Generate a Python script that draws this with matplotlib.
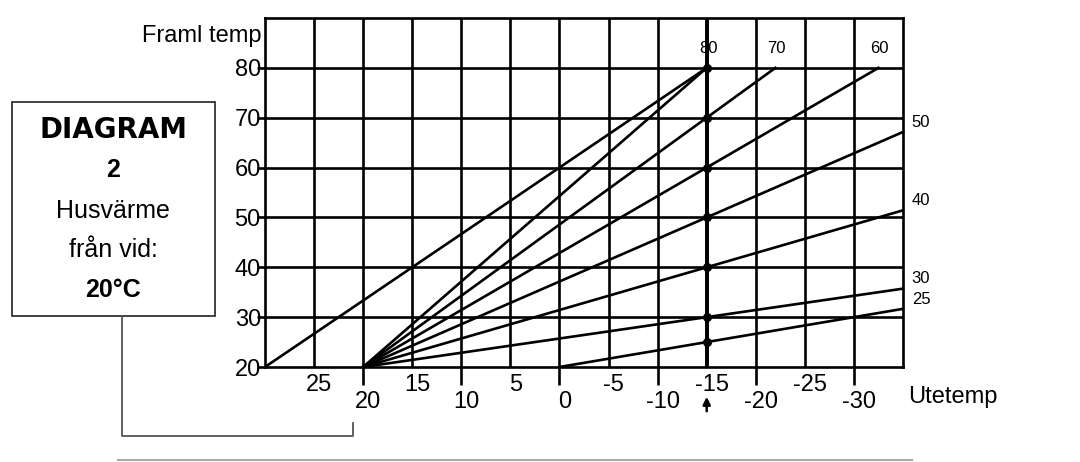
import matplotlib.pyplot as plt
from matplotlib.patches import Rectangle
from matplotlib.lines import Line2D
import matplotlib.transforms as mtransforms

plt.rcParams['font.family'] = ['Liberation Sans', 'DejaVu Sans']

# outdoor temperature ticks (two staggered rows) and supply temperature ticks
outdoor_lower = [20, 10, 0, -10, -20, -30]
outdoor_upper = [25, 15, 5, -5, -15, -25]
supply_ticks = [20, 30, 40, 50, 60, 70, 80]

# heating curves: supply temp at design outdoor temp -15, start point on 20-line
curve_names = [80, 70, 60, 50, 40, 30, 25]
curve_start = [20, 20, 20, 20, 20, 20, 0]
design_outdoor = -15
# extra straight line from the left corner up to (-15, 80)
corner_line_x = [30, -15]
corner_line_y = [20, 80]

W, H = 1080, 462
fig = plt.figure(figsize=(W / 100, H / 100), dpi=100)

def fx(px):
    return px / W

def fy(py):
    return 1 - py / H

ax = fig.add_axes([fx(265), fy(367), fx(903) - fx(265), fy(18) - fy(367)])
ax.set_xlim(30, -35)
ax.set_ylim(20, 90)

lw = 1.9
for x in range(25, -35, -5):
    ax.axvline(x, color='black', lw=lw * (1.5 if x == design_outdoor else 1), zorder=1)
for y in supply_ticks[1:]:
    ax.axhline(y, color='black', lw=lw, zorder=1)
for s in ax.spines.values():
    s.set_linewidth(lw)

# curves
for name, x0 in zip(curve_names, curve_start):
    slope = (name - 20) / (x0 - design_outdoor)
    if name == 80:
        x_end = design_outdoor
    else:
        x_end = max(-35, x0 - (80 - 20) / slope)
    y_end = 20 + slope * (x0 - x_end)
    ax.plot([x0, x_end], [20, y_end], color='black', lw=lw, zorder=2, clip_on=False)
    ax.plot(design_outdoor, name, 'o', color='black', ms=5.5, zorder=3)
    if x_end > -35:
        ax.annotate(str(name), (x_end, y_end), xytext=(1, 14), textcoords='offset points',
                    ha='center', va='center', fontsize=12)
    else:
        ax.annotate(str(name), (x_end, y_end), xytext=(13, 7), textcoords='offset points',
                    ha='center', va='center', fontsize=12)

ax.plot(corner_line_x, corner_line_y, color='black', lw=lw, zorder=2)

# axis ticks
ax.set_yticks(supply_ticks)
ax.set_yticklabels([str(v) for v in supply_ticks], fontsize=17)
ax.tick_params(axis='y', length=6, width=lw, pad=-3, direction='out')

ax.set_xticks(outdoor_lower)
ax.set_xticklabels([str(v) for v in outdoor_lower], fontsize=17)
ax.set_xticks(outdoor_upper, minor=True)
ax.set_xticklabels([str(v) for v in outdoor_upper], minor=True, fontsize=17)
ax.tick_params(axis='x', which='major', length=13, width=lw, pad=4, direction='out')
ax.tick_params(axis='x', which='minor', length=0, pad=5)
offset = mtransforms.ScaledTranslation(5 / 100, 0, fig.dpi_scale_trans)
for lab in ax.get_xticklabels() + ax.get_xticklabels(minor=True):
    lab.set_transform(lab.get_transform() + offset)

# arrow under design temperature
trans = mtransforms.blended_transform_factory(ax.transData, ax.transAxes)
ax.annotate('', xy=(design_outdoor, (367 - 394) / 349), xytext=(design_outdoor, (367 - 414) / 349),
            xycoords=trans, textcoords=trans,
            arrowprops=dict(arrowstyle='-|>', color='black', lw=1.8, mutation_scale=11))

fig.text(fx(262), fy(36), 'Framl temp', ha='right', va='center', fontsize=17)
fig.text(fx(908), fy(397), 'Utetemp', ha='left', va='center', fontsize=17)

# info box
fig.add_artist(Rectangle((fx(12), fy(316)), fx(215) - fx(12), fy(102) - fy(316),
                         transform=fig.transFigure, fill=False, edgecolor='#333333', lw=1.3))
cx = fx(113)
fig.text(cx, fy(130), 'DIAGRAM', ha='center', va='center', fontsize=20, fontweight='bold',
         family='DejaVu Sans')
fig.text(cx, fy(170), '2', ha='center', va='center', fontsize=18, fontweight='bold')
fig.text(cx, fy(211), 'Husvärme', ha='center', va='center', fontsize=18)
fig.text(cx, fy(250), 'från vid:', ha='center', va='center', fontsize=18)
fig.text(cx, fy(290), '20°C', ha='center', va='center', fontsize=18, fontweight='bold')

fig.add_artist(Line2D([fx(122), fx(122), fx(353), fx(353)], [fy(316), fy(436), fy(436), fy(423)],
                      transform=fig.transFigure, color='#555555', lw=1.3))
fig.add_artist(Line2D([fx(118), fx(912)], [fy(460), fy(460)],
                      transform=fig.transFigure, color='#aaaaaa', lw=1.5))

fig.savefig('out.png', dpi=100)
